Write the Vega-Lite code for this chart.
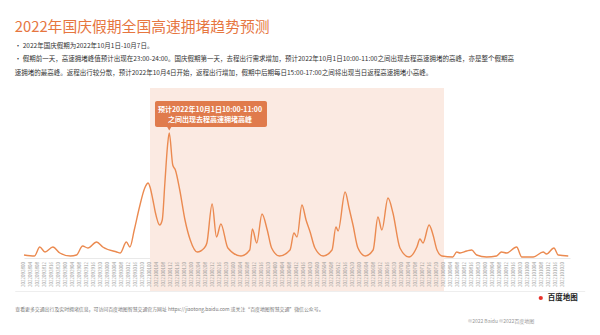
{
  "$schema": "https://vega.github.io/schema/vega-lite/v6.json",
  "width": 546,
  "height": 204,
  "autosize": {"type": "none"},
  "padding": {"left": 24, "top": 88, "right": 30, "bottom": 43},
  "background": "white",
  "config": {"view": {"stroke": null}, "font": "Noto Sans CJK SC"},
  "title": {
    "text": "2022年国庆假期全国高速拥堵趋势预测",
    "subtitle": [
      "• 2022年国庆假期为2022年10月1日-10月7日。",
      "• 假期前一天，高速拥堵峰值预计出现在23:00-24:00。国庆假期第一天，去程出行需求增加，预计2022年10月1日10:00-11:00之间出现去程高速拥堵的高峰，亦是整个假期高",
      "\u3000速拥堵的最高峰。返程出行较分散，预计2022年10月4日开始，返程出行增加，假期中后期每日15:00-17:00之间将出现当日返程高速拥堵小高峰。"
    ],
    "anchor": "start",
    "offset": 12,
    "fontSize": 14.8,
    "fontWeight": "normal",
    "color": "#E6763F",
    "subtitleFontSize": 6.5,
    "subtitleColor": "#333333",
    "subtitleLineHeight": 13,
    "subtitlePadding": 9
  },
  "layer": [
    {
      "data": {"values": [{"start": 72, "end": 240}]},
      "mark": {"type": "rect", "color": "#FBEAE2"},
      "encoding": {
        "x": {
          "field": "start",
          "type": "quantitative",
          "scale": {"domain": [0, 312], "nice": false, "zero": false},
          "axis": {
            "title": null,
            "offset": -34,
            "labels": false,
            "ticks": false,
            "grid": false,
            "domainColor": "#E3E3E3",
            "domainWidth": 0.8
          }
        },
        "x2": {"field": "end"},
        "y": {"datum": 170, "type": "quantitative", "scale": {"domain": [-34, 170], "nice": false, "zero": false}, "axis": null},
        "y2": {"datum": -34}
      }
    },
    {
      "data": {"values": [{"a": -5, "b": 320.7}]},
      "mark": {"type": "rule", "color": "#EEEEEE", "strokeWidth": 1},
      "encoding": {
        "x": {"field": "a", "type": "quantitative"},
        "x2": {"field": "b"},
        "y": {"datum": -33.5, "type": "quantitative", "axis": null}
      }
    },
    {
      "data": {
        "values": [
          {"h": 0, "label": "2022092800"}, {"h": 4, "label": "2022092804"}, {"h": 8, "label": "2022092808"}, {"h": 12, "label": "2022092812"}, {"h": 16, "label": "2022092816"}, {"h": 20, "label": "2022092820"},
          {"h": 24, "label": "2022092900"}, {"h": 28, "label": "2022092904"}, {"h": 32, "label": "2022092908"}, {"h": 36, "label": "2022092912"}, {"h": 40, "label": "2022092916"}, {"h": 44, "label": "2022092920"},
          {"h": 48, "label": "2022093000"}, {"h": 52, "label": "2022093004"}, {"h": 56, "label": "2022093008"}, {"h": 60, "label": "2022093012"}, {"h": 64, "label": "2022093016"}, {"h": 68, "label": "2022093020"},
          {"h": 72, "label": "2022100100"}, {"h": 76, "label": "2022100104"}, {"h": 80, "label": "2022100108"}, {"h": 84, "label": "2022100112"}, {"h": 88, "label": "2022100116"}, {"h": 92, "label": "2022100120"},
          {"h": 96, "label": "2022100200"}, {"h": 100, "label": "2022100204"}, {"h": 104, "label": "2022100208"}, {"h": 108, "label": "2022100212"}, {"h": 112, "label": "2022100216"}, {"h": 116, "label": "2022100220"},
          {"h": 120, "label": "2022100300"}, {"h": 124, "label": "2022100304"}, {"h": 128, "label": "2022100308"}, {"h": 132, "label": "2022100312"}, {"h": 136, "label": "2022100316"}, {"h": 140, "label": "2022100320"},
          {"h": 144, "label": "2022100400"}, {"h": 148, "label": "2022100404"}, {"h": 152, "label": "2022100408"}, {"h": 156, "label": "2022100412"}, {"h": 160, "label": "2022100416"}, {"h": 164, "label": "2022100420"},
          {"h": 168, "label": "2022100500"}, {"h": 172, "label": "2022100504"}, {"h": 176, "label": "2022100508"}, {"h": 180, "label": "2022100512"}, {"h": 184, "label": "2022100516"}, {"h": 188, "label": "2022100520"},
          {"h": 192, "label": "2022100600"}, {"h": 196, "label": "2022100604"}, {"h": 200, "label": "2022100608"}, {"h": 204, "label": "2022100612"}, {"h": 208, "label": "2022100616"}, {"h": 212, "label": "2022100620"},
          {"h": 216, "label": "2022100700"}, {"h": 220, "label": "2022100704"}, {"h": 224, "label": "2022100708"}, {"h": 228, "label": "2022100712"}, {"h": 232, "label": "2022100716"}, {"h": 236, "label": "2022100720"},
          {"h": 240, "label": "2022100800"}, {"h": 244, "label": "2022100804"}, {"h": 248, "label": "2022100808"}, {"h": 252, "label": "2022100812"}, {"h": 256, "label": "2022100816"}, {"h": 260, "label": "2022100820"},
          {"h": 264, "label": "2022100900"}, {"h": 268, "label": "2022100904"}, {"h": 272, "label": "2022100908"}, {"h": 276, "label": "2022100912"}, {"h": 280, "label": "2022100916"}, {"h": 284, "label": "2022100920"},
          {"h": 288, "label": "2022101000"}, {"h": 292, "label": "2022101004"}, {"h": 296, "label": "2022101008"}, {"h": 300, "label": "2022101012"}, {"h": 304, "label": "2022101016"}, {"h": 308, "label": "2022101020"}
        ]
      },
      "mark": {"type": "text", "angle": 270, "align": "right", "baseline": "middle", "fontSize": 4.5, "color": "#999999"},
      "encoding": {
        "x": {"field": "h", "type": "quantitative"},
        "y": {"datum": -4, "type": "quantitative", "axis": null},
        "text": {"field": "label"}
      }
    },
    {
      "data": {
        "values": [
          {"h": 0, "v": 3}, {"h": 6, "v": 2}, {"h": 9, "v": 11}, {"h": 12, "v": 6}, {"h": 16.5, "v": 11}, {"h": 20.5, "v": 5},
          {"h": 26.5, "v": 2}, {"h": 30, "v": 3}, {"h": 33.5, "v": 12}, {"h": 36.5, "v": 10}, {"h": 41.5, "v": 16}, {"h": 45, "v": 11},
          {"h": 53, "v": 6}, {"h": 55, "v": 5}, {"h": 58.5, "v": 16}, {"h": 60.5, "v": 11}, {"h": 63, "v": 28}, {"h": 66, "v": 51},
          {"h": 69, "v": 70}, {"h": 71, "v": 75}, {"h": 72, "v": 71}, {"h": 73.67, "v": 58}, {"h": 75, "v": 46}, {"h": 77.5, "v": 33},
          {"h": 79, "v": 38}, {"h": 80.5, "v": 75}, {"h": 82, "v": 112}, {"h": 83, "v": 125}, {"h": 85, "v": 93}, {"h": 86.5, "v": 88},
          {"h": 89, "v": 68}, {"h": 92, "v": 38}, {"h": 95, "v": 18}, {"h": 99, "v": 6}, {"h": 103, "v": 10}, {"h": 104.5, "v": 15},
          {"h": 107.5, "v": 54}, {"h": 110, "v": 21}, {"h": 112.5, "v": 34}, {"h": 116.5, "v": 10}, {"h": 124, "v": 2}, {"h": 129, "v": 8},
          {"h": 130.5, "v": 29}, {"h": 133, "v": 15}, {"h": 136, "v": 44}, {"h": 139, "v": 28}, {"h": 141.5, "v": 10}, {"h": 146, "v": 2},
          {"h": 152, "v": 8}, {"h": 154.25, "v": 25}, {"h": 156, "v": 21}, {"h": 158.83, "v": 53}, {"h": 161.17, "v": 38}, {"h": 163.5, "v": 26},
          {"h": 166.25, "v": 10}, {"h": 171, "v": 2}, {"h": 176, "v": 8}, {"h": 178.25, "v": 31}, {"h": 179.5, "v": 27}, {"h": 183.5, "v": 66},
          {"h": 185.75, "v": 50}, {"h": 188, "v": 33}, {"h": 190.83, "v": 10}, {"h": 195, "v": 2}, {"h": 199.5, "v": 8}, {"h": 202.25, "v": 41},
          {"h": 204.5, "v": 28}, {"h": 208, "v": 60}, {"h": 210.83, "v": 45}, {"h": 214.83, "v": 10}, {"h": 220, "v": 1}, {"h": 224.5, "v": 11},
          {"h": 226.25, "v": 19}, {"h": 228, "v": 15}, {"h": 231.5, "v": 33}, {"h": 233.75, "v": 23}, {"h": 236, "v": 8}, {"h": 238.83, "v": 2},
          {"h": 245, "v": 1}, {"h": 247.25, "v": 6}, {"h": 249.17, "v": 5}, {"h": 253, "v": 7}, {"h": 255.83, "v": 8}, {"h": 258.67, "v": 3},
          {"h": 264.33, "v": 1}, {"h": 270, "v": 2}, {"h": 272.83, "v": 6}, {"h": 275.75, "v": 5}, {"h": 281.5, "v": 11}, {"h": 284.42, "v": 1},
          {"h": 291, "v": 1}, {"h": 296.67, "v": 6}, {"h": 298.58, "v": 4}, {"h": 302.83, "v": 10}, {"h": 305.25, "v": 3}, {"h": 311, "v": 2}
        ]
      },
      "mark": {"type": "line", "color": "#EB8A50", "strokeWidth": 1.4, "interpolate": "monotone"},
      "encoding": {
        "x": {"field": "h", "type": "quantitative"},
        "y": {"field": "v", "type": "quantitative", "axis": null}
      }
    },
    {
      "data": {"values": [{"a": 74.85, "b": 138.85, "lo": 131, "hi": 157}]},
      "mark": {"type": "rect", "color": "#E07B4C", "cornerRadius": 2},
      "encoding": {
        "x": {"field": "a", "type": "quantitative"},
        "x2": {"field": "b"},
        "y": {"field": "hi", "type": "quantitative", "axis": null},
        "y2": {"field": "lo"}
      }
    },
    {
      "data": {"values": [{"h": 83, "v": 129.5}]},
      "mark": {"type": "point", "shape": "triangle-down", "filled": true, "color": "#E07B4C", "size": 22, "opacity": 1},
      "encoding": {
        "x": {"field": "h", "type": "quantitative"},
        "y": {"field": "v", "type": "quantitative", "axis": null}
      }
    },
    {
      "data": {"values": [{"h": 106.3, "v": 148, "label": "预计2022年10月1日10:00-11:00"}, {"h": 106.3, "v": 138, "label": "之间出现去程高速拥堵高峰"}]},
      "mark": {"type": "text", "color": "white", "fontSize": 7, "fontWeight": "bold", "align": "center", "baseline": "middle"},
      "encoding": {
        "x": {"field": "h", "type": "quantitative"},
        "y": {"field": "v", "type": "quantitative", "axis": null},
        "text": {"field": "label"}
      }
    },
    {
      "data": {"values": [{"h": -5, "v": -52, "label": "查看更多交通出行及实时拥堵信息，可访问百度地图智慧交通官方网址 https://jiaotong.baidu.com 或关注“百度地图智慧交通”微信公众号。"}]},
      "mark": {"type": "text", "color": "#777777", "fontSize": 4.9, "align": "left", "baseline": "middle"},
      "encoding": {
        "x": {"field": "h", "type": "quantitative"},
        "y": {"field": "v", "type": "quantitative", "axis": null},
        "text": {"field": "label"}
      }
    },
    {
      "data": {"values": [{"h": 253.7, "v": -63, "label": "©2022 Baidu   ©2022百度地图"}]},
      "mark": {"type": "text", "color": "#999999", "fontSize": 5, "align": "left", "baseline": "middle"},
      "encoding": {
        "x": {"field": "h", "type": "quantitative"},
        "y": {"field": "v", "type": "quantitative", "axis": null},
        "text": {"field": "label"}
      }
    },
    {
      "data": {"values": [{"h": 299.3, "v": -40, "label": "百度地图"}]},
      "mark": {"type": "text", "color": "#222222", "fontSize": 7.5, "fontWeight": "bold", "align": "left", "baseline": "middle"},
      "encoding": {
        "x": {"field": "h", "type": "quantitative"},
        "y": {"field": "v", "type": "quantitative", "axis": null},
        "text": {"field": "label"}
      }
    },
    {
      "data": {"values": [{"h": 295.3, "v": -40}]},
      "mark": {"type": "point", "shape": "circle", "filled": true, "color": "#E8312A", "size": 18, "opacity": 1},
      "encoding": {
        "x": {"field": "h", "type": "quantitative"},
        "y": {"field": "v", "type": "quantitative", "axis": null}
      }
    }
  ]
}
